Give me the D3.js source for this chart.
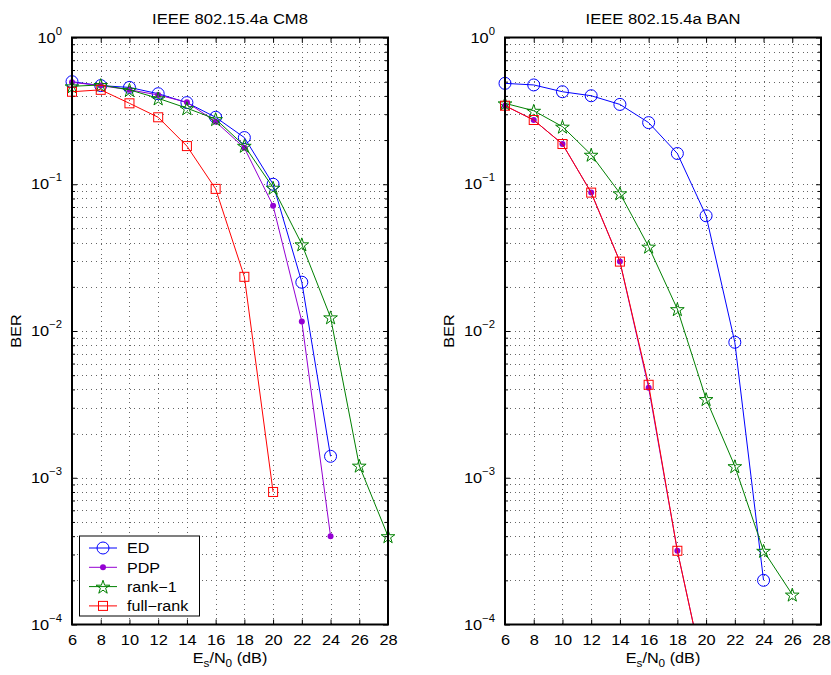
<!DOCTYPE html>
<html>
<head>
<meta charset="utf-8">
<script src="https://cdn.jsdelivr.net/npm/d3@7"></script>
<style>
  body { margin: 0; background: #fff; }
  svg { font-family: "Liberation Sans", Arial, Helvetica, sans-serif; }
</style>
</head>
<body>
<svg id="chart" width="831" height="675"></svg>
<script>
// Es/N0 grid (dB) and axis ticks
const snr = [6, 8, 10, 12, 14, 16, 18, 20, 22, 24, 26, 28];
const xTicks = [6, 8, 10, 12, 14, 16, 18, 20, 22, 24, 26, 28];
const yDecades = [-4, -3, -2, -1, 0];

// IEEE 802.15.4a CM8 BER curves
const cm8ED       = [0.50, 0.47, 0.457, 0.414, 0.36, 0.286, 0.208, 0.100, 0.0215, 0.0014];
const cm8PDP      = [0.495, 0.47, 0.44, 0.406, 0.362, 0.267, 0.177, 0.0714, 0.0116, 0.0004];
const cm8Rank1    = [0.465, 0.475, 0.44, 0.385, 0.33, 0.278, 0.183, 0.0948, 0.039, 0.0124, 0.00121, 0.0004];
const cm8FullRank = [0.427, 0.44, 0.356, 0.286, 0.182, 0.093, 0.0234, 0.0008];

// IEEE 802.15.4a BAN BER curves
const banED       = [0.487, 0.475, 0.427, 0.401, 0.35, 0.263, 0.162, 0.061, 0.00838, 0.0002];
const banPDP      = [0.343, 0.274, 0.188, 0.0877, 0.0297, 0.0041, 0.000318, 0.00004];
const banRank1    = [0.356, 0.317, 0.247, 0.159, 0.0868, 0.0376, 0.0141, 0.00344, 0.0012, 0.000318, 0.00016];
const banFullRank = [0.343, 0.274, 0.188, 0.0877, 0.0297, 0.0043, 0.000318, 0.00004];

const seriesNames = ["ED", "PDP", "rank\u22121", "full\u2212rank"];
const seriesColors = ["#0000ff", "#9400d3", "#008000", "#ff0000"];
const seriesMarkers = ["circle", "dot", "star", "square"];

const panels = [
  { title: "IEEE 802.15.4a CM8", x0: 72, x1: 388, data: [cm8ED, cm8PDP, cm8Rank1, cm8FullRank], legend: true },
  { title: "IEEE 802.15.4a BAN", x0: 505, x1: 821, data: [banED, banPDP, banRank1, banFullRank], legend: false }
];

const yTop = 37.5, yBot = 624.5;
const SX = 1.13; // horizontal glyph stretch
const svg = d3.select("#chart");

// text placed at (x, y), widened horizontally about its anchor
function label(parent, x, y, size, anchor, sx) {
  return parent.append("text")
    .attr("transform", `translate(${x},${y}) scale(${sx || SX},1)`)
    .attr("text-anchor", anchor).attr("font-size", size).attr("fill", "#000");
}

function drawMarker(g, type, color, cx, cy) {
  if (type === "circle") {
    g.append("circle").attr("cx", cx).attr("cy", cy).attr("r", 6)
      .attr("fill", "none").attr("stroke", color).attr("stroke-width", 1);
  } else if (type === "dot") {
    g.append("circle").attr("cx", cx).attr("cy", cy).attr("r", 3)
      .attr("fill", color).attr("stroke", "none");
  } else if (type === "star") {
    g.append("path").attr("d", d3.symbol().type(d3.symbolStar).size(58)())
      .attr("transform", `translate(${cx},${cy + 0.8})`)
      .attr("fill", "none").attr("stroke", color).attr("stroke-width", 1);
  } else if (type === "square") {
    g.append("rect").attr("x", cx - 4.5).attr("y", cy - 4.5).attr("width", 9).attr("height", 9)
      .attr("fill", "none").attr("stroke", color).attr("stroke-width", 1);
  }
}

panels.forEach((p, pi) => {
  const x = d3.scaleLinear().domain([6, 28]).range([p.x0, p.x1]);
  const y = d3.scaleLog().domain([1e-4, 1]).range([yBot, yTop]);
  const g = svg.append("g");

  // dotted grid
  const minorVals = [];
  yDecades.slice(0, -1).forEach(e => { for (let m = 1; m <= 9; m++) minorVals.push(m * Math.pow(10, e)); });
  const grid = g.append("g").attr("stroke", "#666").attr("stroke-width", 1)
    .attr("stroke-dasharray", "1,3.8").attr("shape-rendering", "crispEdges");
  xTicks.slice(1, -1).forEach(t => {
    grid.append("line").attr("x1", Math.round(x(t)) + 0.5).attr("x2", Math.round(x(t)) + 0.5)
      .attr("y1", yTop).attr("y2", yBot);
  });
  minorVals.slice(1).forEach(v => {
    grid.append("line").attr("y1", Math.round(y(v)) + 0.5).attr("y2", Math.round(y(v)) + 0.5)
      .attr("x1", p.x0).attr("x2", p.x1);
  });

  // axes with inward ticks on all four sides
  const bottom = g.append("g").attr("transform", `translate(0,${yBot})`)
    .call(d3.axisBottom(x).tickValues(xTicks).tickSize(-5).tickPadding(10).tickFormat(d3.format("d")));
  const top = g.append("g").attr("transform", `translate(0,${yTop})`)
    .call(d3.axisTop(x).tickValues(xTicks).tickSize(-5).tickFormat(""));
  const majorVals = yDecades.map(e => Math.pow(10, e));
  const minorOnly = minorVals.filter(v => !majorVals.includes(v));
  const left = g.append("g").attr("transform", `translate(${p.x0},0)`)
    .call(d3.axisLeft(y).tickValues(majorVals).tickSize(-5).tickFormat(""));
  const right = g.append("g").attr("transform", `translate(${p.x1},0)`)
    .call(d3.axisRight(y).tickValues(majorVals).tickSize(-5).tickFormat(""));
  const leftMinor = g.append("g").attr("transform", `translate(${p.x0},0)`)
    .call(d3.axisLeft(y).tickValues(minorOnly).tickSize(-3).tickFormat(""));
  const rightMinor = g.append("g").attr("transform", `translate(${p.x1},0)`)
    .call(d3.axisRight(y).tickValues(minorOnly).tickSize(-3).tickFormat(""));
  [bottom, top, left, right, leftMinor, rightMinor].forEach(a => {
    a.select(".domain").remove();
    a.selectAll(".tick line").attr("stroke", "#000").attr("stroke-width", 1);
  });
  bottom.selectAll("text").attr("font-size", 14.5).attr("fill", "#000")
    .attr("font-family", "'Liberation Sans', Arial, sans-serif")
    .attr("transform", `scale(${SX},1)`);

  // y tick labels 10^n
  yDecades.forEach(e => {
    const t = label(g, p.x0 - 10, y(Math.pow(10, e)) + 5, 14.5, "end");
    t.append("tspan").text("10");
    t.append("tspan").attr("dy", -8).attr("font-size", 10).text(e === 0 ? "0" : "\u2212" + (-e));
  });

  // data lines and markers
  const clipId = "clip" + pi;
  g.append("clipPath").attr("id", clipId).append("rect")
    .attr("x", p.x0).attr("y", yTop).attr("width", p.x1 - p.x0).attr("height", yBot - yTop);
  const line = d3.line().x((d, i) => x(snr[i])).y(d => y(d));
  p.data.forEach((vals, si) => {
    g.append("path").attr("d", line(vals)).attr("clip-path", `url(#${clipId})`)
      .attr("fill", "none").attr("stroke", seriesColors[si]).attr("stroke-width", 1);
    const mg = g.append("g");
    vals.forEach((v, i) => {
      if (v >= 1e-4) drawMarker(mg, seriesMarkers[si], seriesColors[si], x(snr[i]), y(v));
    });
  });

  // box
  g.append("rect").attr("x", p.x0).attr("y", yTop).attr("width", p.x1 - p.x0).attr("height", yBot - yTop)
    .attr("fill", "none").attr("stroke", "#000").attr("stroke-width", 2);

  // titles
  label(g, (p.x0 + p.x1) / 2, 24, 15.5, "middle", 1.07).text(p.title);
  const xl = label(g, (p.x0 + p.x1) / 2, 663, 14.5, "middle", 1.12);
  xl.append("tspan").text("E");
  xl.append("tspan").attr("dy", 4).attr("font-size", 10.5).text("s");
  xl.append("tspan").attr("dy", -4).text("/N");
  xl.append("tspan").attr("dy", 4).attr("font-size", 10.5).text("0");
  xl.append("tspan").attr("dy", -4).text(" (dB)");
  g.append("text").attr("transform", `translate(${p.x0 - 51},${(yTop + yBot) / 2}) rotate(-90) scale(1.12,1)`)
    .attr("text-anchor", "middle").attr("font-size", 14.5).attr("fill", "#000").text("BER");

  // legend
  if (p.legend) {
    const lg = g.append("g");
    lg.append("rect").attr("x", 79.5).attr("y", 536).attr("width", 120).attr("height", 80)
      .attr("fill", "#fff").attr("stroke", "#000").attr("stroke-width", 1);
    seriesNames.forEach((name, si) => {
      const ly = 548 + si * 19.3;
      lg.append("line").attr("x1", 89).attr("x2", 117).attr("y1", ly).attr("y2", ly)
        .attr("stroke", seriesColors[si]).attr("stroke-width", 1);
      drawMarker(lg, seriesMarkers[si], seriesColors[si], 103, ly);
      label(lg, 127, ly + 5.2, 14.5, "start", 1.11).text(name);
    });
  }
});
</script>
</body>
</html>
